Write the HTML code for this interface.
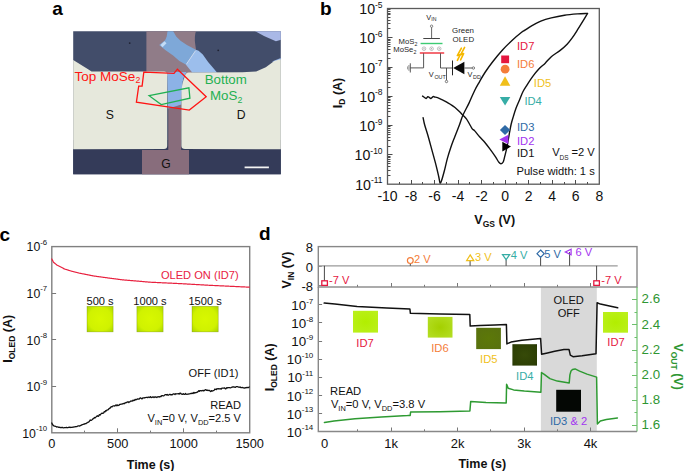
<!DOCTYPE html>
<html><head><meta charset="utf-8"><style>
html,body{margin:0;padding:0;background:#fff;width:685px;height:471px;overflow:hidden;}
svg{display:block;font-family:"Liberation Sans", sans-serif;}
</style></head><body>
<svg width="685" height="471" viewBox="0 0 685 471" font-family='"Liberation Sans", sans-serif'>
<rect width="685" height="471" fill="#fff"/>
<defs>
<filter id="blur1" x="-5%" y="-5%" width="110%" height="110%"><feGaussianBlur stdDeviation="0.7"/></filter>
<filter id="blur2"><feGaussianBlur stdDeviation="1.2"/></filter>
<clipPath id="micro"><rect x="73.2" y="31.2" width="207.6" height="143"/></clipPath>
</defs>
<text x="52.20" y="14.60" font-size="19" text-anchor="start" fill="#000" font-weight="bold" >a</text>
<text x="320.00" y="14.60" font-size="19" text-anchor="start" fill="#000" font-weight="bold" >b</text>
<text x="-0.60" y="240.60" font-size="19" text-anchor="start" fill="#000" font-weight="bold" >c</text>
<text x="259.00" y="240.30" font-size="19" text-anchor="start" fill="#000" font-weight="bold" >d</text>
<g clip-path="url(#micro)">
<rect x="73" y="31" width="208" height="144" fill="#424d6a"/>
<rect x="73" y="140" width="208" height="36" fill="#343b59"/>
<g filter="url(#blur1)">
<polygon points="253.00,30.00 282.00,30.00 282.00,39.50 275.90,41.30 264.00,36.00" fill="#a9b8e6" stroke="none" stroke-width="1" />
<polygon points="272.00,61.50 282.00,57.50 282.00,63.50 276.00,62.50" fill="#8fb0e6" stroke="none" stroke-width="1" />
<path d="M146.4,30 L196.4,30 C194.6,34 194.6,40 195.2,44 L196,49.8 L192.2,72.5 L181.2,76 L168.2,76 L146.4,73 Z" fill="#907c88" stroke="none" stroke-width="1" />
<polygon points="168.30,74.00 181.20,74.00 181.20,150.00 189.00,150.00 189.00,176.00 142.00,176.00 142.00,150.00 168.30,150.00" fill="#886d7c" stroke="none" stroke-width="1" />
<polygon points="167.70,30.00 172.50,30.00 176.20,36.50 180.50,40.70 186.90,45.00 195.90,49.80 185.80,64.60 179.40,60.90 173.10,55.60 165.60,50.30 159.20,45.00 165.10,40.20 166.70,36.50" fill="#7ea8d8" stroke="none" stroke-width="1" />
<polygon points="195.90,49.80 198.60,50.80 202.80,54.60 208.10,62.00 214.50,69.40 217.00,72.50 192.20,72.50 185.80,64.60" fill="#9cbeec" stroke="none" stroke-width="1" />
<path d="M167.2,72 L186.5,72 C184,76 182.4,80 182.4,86 L181.2,99 L181.2,104.6 C176,106.5 172,107.5 167.8,108.6 Z" fill="#8cb2e6" stroke="none" stroke-width="1" />
<path d="M72,59.2 L88.5,69.6 L91.5,71.4 L164,71.4 Q167.2,71.4 167.2,74.6 L167.2,145.8 Q167.2,149 164,149 L72,149.3 Z" fill="#e6e8dc" stroke="none" stroke-width="1" />
<path d="M282,58.8 L274.3,60.9 L265.8,67.3 L256.2,71.5 L242.4,72.2 L188.8,72.6 Q185.6,72.8 184.9,76 Q181.4,84 181.4,95 L181.4,145.8 Q181.4,149 185,149 L282,149.3 Z" fill="#e6e8dc" stroke="none" stroke-width="1" />
</g>
<polygon points="160.50,45.00 164.50,41.20 166.50,43.20 162.50,47.20" fill="#c4dcf6" stroke="none" stroke-width="1" filter="url(#blur1)"/>
<line x1="195.60" y1="50.60" x2="186.40" y2="64.20" stroke="#c8daf2" stroke-width="1.0" />
<circle cx="129.7" cy="43.1" r="0.9" fill="#1c1e2c" opacity="0.9"/>
<circle cx="218.2" cy="50.3" r="0.9" fill="#1c1e2c" opacity="0.9"/>
<line x1="244.60" y1="167.40" x2="268.90" y2="167.40" stroke="#f4f4f4" stroke-width="1.6" />
</g>
<polygon points="143.80,72.10 174.00,73.40 177.40,69.20 206.20,96.70 189.30,110.10 136.40,102.10 138.70,86.10 142.10,86.10" fill="none" stroke="#ff1414" stroke-width="1.3" stroke-linejoin="miter"/>
<polygon points="149.10,95.70 188.90,87.80 189.90,98.20 161.20,104.60" fill="none" stroke="#1fb052" stroke-width="1.3" />
<text x="74.4" y="80.6" font-size="13.5" fill="#ff1414">Top MoSe</text><text x="135.4" y="83.4" font-size="8.8" fill="#ff1414">2</text>
<text x="204.7" y="83.7" font-size="13.3" fill="#1fb052">Bottom</text>
<text x="210" y="99.7" font-size="13.3" fill="#1fb052">MoS</text><text x="237.5" y="102.7" font-size="8.8" fill="#1fb052">2</text>
<text x="109.70" y="119.00" font-size="12.2" text-anchor="middle" fill="#111" font-weight="normal" >S</text>
<text x="241.20" y="119.00" font-size="12.2" text-anchor="middle" fill="#111" font-weight="normal" >D</text>
<text x="166.10" y="168.20" font-size="12.2" text-anchor="middle" fill="#111" font-weight="normal" >G</text>
<line x1="399.50" y1="184.20" x2="399.50" y2="182.00" stroke="#4a4a4a" stroke-width="1.0"/>
<line x1="411.50" y1="184.20" x2="411.50" y2="180.00" stroke="#4a4a4a" stroke-width="1.0"/>
<line x1="422.50" y1="184.20" x2="422.50" y2="182.00" stroke="#4a4a4a" stroke-width="1.0"/>
<line x1="434.50" y1="184.20" x2="434.50" y2="180.00" stroke="#4a4a4a" stroke-width="1.0"/>
<line x1="446.50" y1="184.20" x2="446.50" y2="182.00" stroke="#4a4a4a" stroke-width="1.0"/>
<line x1="458.50" y1="184.20" x2="458.50" y2="180.00" stroke="#4a4a4a" stroke-width="1.0"/>
<line x1="469.50" y1="184.20" x2="469.50" y2="182.00" stroke="#4a4a4a" stroke-width="1.0"/>
<line x1="481.50" y1="184.20" x2="481.50" y2="180.00" stroke="#4a4a4a" stroke-width="1.0"/>
<line x1="493.50" y1="184.20" x2="493.50" y2="182.00" stroke="#4a4a4a" stroke-width="1.0"/>
<line x1="505.50" y1="184.20" x2="505.50" y2="180.00" stroke="#4a4a4a" stroke-width="1.0"/>
<line x1="516.50" y1="184.20" x2="516.50" y2="182.00" stroke="#4a4a4a" stroke-width="1.0"/>
<line x1="528.50" y1="184.20" x2="528.50" y2="180.00" stroke="#4a4a4a" stroke-width="1.0"/>
<line x1="540.50" y1="184.20" x2="540.50" y2="182.00" stroke="#4a4a4a" stroke-width="1.0"/>
<line x1="552.50" y1="184.20" x2="552.50" y2="180.00" stroke="#4a4a4a" stroke-width="1.0"/>
<line x1="564.50" y1="184.20" x2="564.50" y2="182.00" stroke="#4a4a4a" stroke-width="1.0"/>
<line x1="575.50" y1="184.20" x2="575.50" y2="180.00" stroke="#4a4a4a" stroke-width="1.0"/>
<line x1="587.50" y1="184.20" x2="587.50" y2="182.00" stroke="#4a4a4a" stroke-width="1.0"/>
<line x1="387.50" y1="175.50" x2="390.50" y2="175.50" stroke="#4a4a4a" stroke-width="1.0"/>
<line x1="387.50" y1="170.50" x2="390.50" y2="170.50" stroke="#4a4a4a" stroke-width="1.0"/>
<line x1="387.50" y1="166.50" x2="390.50" y2="166.50" stroke="#4a4a4a" stroke-width="1.0"/>
<line x1="387.50" y1="163.50" x2="390.50" y2="163.50" stroke="#4a4a4a" stroke-width="1.0"/>
<line x1="387.50" y1="161.50" x2="390.50" y2="161.50" stroke="#4a4a4a" stroke-width="1.0"/>
<line x1="387.50" y1="159.50" x2="390.50" y2="159.50" stroke="#4a4a4a" stroke-width="1.0"/>
<line x1="387.50" y1="157.50" x2="390.50" y2="157.50" stroke="#4a4a4a" stroke-width="1.0"/>
<line x1="387.50" y1="156.50" x2="390.50" y2="156.50" stroke="#4a4a4a" stroke-width="1.0"/>
<line x1="387.50" y1="154.50" x2="392.50" y2="154.50" stroke="#4a4a4a" stroke-width="1.0"/>
<line x1="387.50" y1="146.50" x2="390.50" y2="146.50" stroke="#4a4a4a" stroke-width="1.0"/>
<line x1="387.50" y1="140.50" x2="390.50" y2="140.50" stroke="#4a4a4a" stroke-width="1.0"/>
<line x1="387.50" y1="137.50" x2="390.50" y2="137.50" stroke="#4a4a4a" stroke-width="1.0"/>
<line x1="387.50" y1="134.50" x2="390.50" y2="134.50" stroke="#4a4a4a" stroke-width="1.0"/>
<line x1="387.50" y1="132.50" x2="390.50" y2="132.50" stroke="#4a4a4a" stroke-width="1.0"/>
<line x1="387.50" y1="130.50" x2="390.50" y2="130.50" stroke="#4a4a4a" stroke-width="1.0"/>
<line x1="387.50" y1="128.50" x2="390.50" y2="128.50" stroke="#4a4a4a" stroke-width="1.0"/>
<line x1="387.50" y1="126.50" x2="390.50" y2="126.50" stroke="#4a4a4a" stroke-width="1.0"/>
<line x1="387.50" y1="125.50" x2="392.50" y2="125.50" stroke="#4a4a4a" stroke-width="1.0"/>
<line x1="387.50" y1="116.50" x2="390.50" y2="116.50" stroke="#4a4a4a" stroke-width="1.0"/>
<line x1="387.50" y1="111.50" x2="390.50" y2="111.50" stroke="#4a4a4a" stroke-width="1.0"/>
<line x1="387.50" y1="108.50" x2="390.50" y2="108.50" stroke="#4a4a4a" stroke-width="1.0"/>
<line x1="387.50" y1="105.50" x2="390.50" y2="105.50" stroke="#4a4a4a" stroke-width="1.0"/>
<line x1="387.50" y1="102.50" x2="390.50" y2="102.50" stroke="#4a4a4a" stroke-width="1.0"/>
<line x1="387.50" y1="100.50" x2="390.50" y2="100.50" stroke="#4a4a4a" stroke-width="1.0"/>
<line x1="387.50" y1="99.50" x2="390.50" y2="99.50" stroke="#4a4a4a" stroke-width="1.0"/>
<line x1="387.50" y1="97.50" x2="390.50" y2="97.50" stroke="#4a4a4a" stroke-width="1.0"/>
<line x1="387.50" y1="96.50" x2="392.50" y2="96.50" stroke="#4a4a4a" stroke-width="1.0"/>
<line x1="387.50" y1="87.50" x2="390.50" y2="87.50" stroke="#4a4a4a" stroke-width="1.0"/>
<line x1="387.50" y1="82.50" x2="390.50" y2="82.50" stroke="#4a4a4a" stroke-width="1.0"/>
<line x1="387.50" y1="78.50" x2="390.50" y2="78.50" stroke="#4a4a4a" stroke-width="1.0"/>
<line x1="387.50" y1="75.50" x2="390.50" y2="75.50" stroke="#4a4a4a" stroke-width="1.0"/>
<line x1="387.50" y1="73.50" x2="390.50" y2="73.50" stroke="#4a4a4a" stroke-width="1.0"/>
<line x1="387.50" y1="71.50" x2="390.50" y2="71.50" stroke="#4a4a4a" stroke-width="1.0"/>
<line x1="387.50" y1="69.50" x2="390.50" y2="69.50" stroke="#4a4a4a" stroke-width="1.0"/>
<line x1="387.50" y1="68.50" x2="390.50" y2="68.50" stroke="#4a4a4a" stroke-width="1.0"/>
<line x1="387.50" y1="67.50" x2="392.50" y2="67.50" stroke="#4a4a4a" stroke-width="1.0"/>
<line x1="387.50" y1="58.50" x2="390.50" y2="58.50" stroke="#4a4a4a" stroke-width="1.0"/>
<line x1="387.50" y1="53.50" x2="390.50" y2="53.50" stroke="#4a4a4a" stroke-width="1.0"/>
<line x1="387.50" y1="49.50" x2="390.50" y2="49.50" stroke="#4a4a4a" stroke-width="1.0"/>
<line x1="387.50" y1="46.50" x2="390.50" y2="46.50" stroke="#4a4a4a" stroke-width="1.0"/>
<line x1="387.50" y1="44.50" x2="390.50" y2="44.50" stroke="#4a4a4a" stroke-width="1.0"/>
<line x1="387.50" y1="42.50" x2="390.50" y2="42.50" stroke="#4a4a4a" stroke-width="1.0"/>
<line x1="387.50" y1="40.50" x2="390.50" y2="40.50" stroke="#4a4a4a" stroke-width="1.0"/>
<line x1="387.50" y1="39.50" x2="390.50" y2="39.50" stroke="#4a4a4a" stroke-width="1.0"/>
<line x1="387.50" y1="37.50" x2="392.50" y2="37.50" stroke="#4a4a4a" stroke-width="1.0"/>
<line x1="387.50" y1="28.50" x2="390.50" y2="28.50" stroke="#4a4a4a" stroke-width="1.0"/>
<line x1="387.50" y1="23.50" x2="390.50" y2="23.50" stroke="#4a4a4a" stroke-width="1.0"/>
<line x1="387.50" y1="20.50" x2="390.50" y2="20.50" stroke="#4a4a4a" stroke-width="1.0"/>
<line x1="387.50" y1="17.50" x2="390.50" y2="17.50" stroke="#4a4a4a" stroke-width="1.0"/>
<line x1="387.50" y1="14.50" x2="390.50" y2="14.50" stroke="#4a4a4a" stroke-width="1.0"/>
<line x1="387.50" y1="13.50" x2="390.50" y2="13.50" stroke="#4a4a4a" stroke-width="1.0"/>
<line x1="387.50" y1="11.50" x2="390.50" y2="11.50" stroke="#4a4a4a" stroke-width="1.0"/>
<line x1="387.50" y1="9.50" x2="390.50" y2="9.50" stroke="#4a4a4a" stroke-width="1.0"/>
<rect x="387.5" y="8.5" width="211.80" height="175.70" fill="none" stroke="#5a5a5a" stroke-width="1.3"/>
<text x="387.50" y="201.30" font-size="14" text-anchor="middle" fill="#111" font-weight="normal" >-10</text>
<text x="411.03" y="201.30" font-size="14" text-anchor="middle" fill="#111" font-weight="normal" >-8</text>
<text x="434.57" y="201.30" font-size="14" text-anchor="middle" fill="#111" font-weight="normal" >-6</text>
<text x="458.10" y="201.30" font-size="14" text-anchor="middle" fill="#111" font-weight="normal" >-4</text>
<text x="481.63" y="201.30" font-size="14" text-anchor="middle" fill="#111" font-weight="normal" >-2</text>
<text x="505.17" y="201.30" font-size="14" text-anchor="middle" fill="#111" font-weight="normal" >0</text>
<text x="528.70" y="201.30" font-size="14" text-anchor="middle" fill="#111" font-weight="normal" >2</text>
<text x="552.23" y="201.30" font-size="14" text-anchor="middle" fill="#111" font-weight="normal" >4</text>
<text x="575.77" y="201.30" font-size="14" text-anchor="middle" fill="#111" font-weight="normal" >6</text>
<text x="599.30" y="201.30" font-size="14" text-anchor="middle" fill="#111" font-weight="normal" >8</text>
<text x="382.60" y="189.70" font-size="14.2" text-anchor="end" fill="#111">10<tspan font-size="8.5" dy="-6.5">-11</tspan></text>
<text x="382.60" y="160.42" font-size="14.2" text-anchor="end" fill="#111">10<tspan font-size="8.5" dy="-6.5">-10</tspan></text>
<text x="382.60" y="131.13" font-size="14.2" text-anchor="end" fill="#111">10<tspan font-size="8.5" dy="-6.5">-9</tspan></text>
<text x="382.60" y="101.85" font-size="14.2" text-anchor="end" fill="#111">10<tspan font-size="8.5" dy="-6.5">-8</tspan></text>
<text x="382.60" y="72.57" font-size="14.2" text-anchor="end" fill="#111">10<tspan font-size="8.5" dy="-6.5">-7</tspan></text>
<text x="382.60" y="43.28" font-size="14.2" text-anchor="end" fill="#111">10<tspan font-size="8.5" dy="-6.5">-6</tspan></text>
<text x="382.60" y="14.00" font-size="14.2" text-anchor="end" fill="#111">10<tspan font-size="8.5" dy="-6.5">-5</tspan></text>
<text transform="translate(342.0,93) rotate(-90)" font-size="12.5" font-weight="bold" text-anchor="middle" fill="#111">I<tspan font-size="8.5" dy="3">D</tspan><tspan dy="-3"> (A)</tspan></text>
<text x="494.7" y="224.4" font-size="12.5" font-weight="bold" text-anchor="middle" fill="#111">V<tspan font-size="8.5" dy="3">GS</tspan><tspan dy="-3"> (V)</tspan></text>
<path d="M422.60,96.10 C422.82,96.25 423.32,96.60 423.90,97.00 C424.48,97.40 425.43,98.57 426.10,98.50 C426.77,98.43 427.38,96.78 427.90,96.60 C428.42,96.42 428.70,97.08 429.20,97.40 C429.70,97.72 430.25,98.63 430.90,98.50 C431.55,98.37 432.50,96.85 433.10,96.60 C433.70,96.35 433.77,96.82 434.50,97.00 C435.23,97.18 436.27,97.27 437.50,97.70 C438.73,98.13 440.43,98.92 441.90,99.60 C443.37,100.28 444.83,100.98 446.30,101.80 C447.77,102.62 449.25,103.55 450.70,104.50 C452.15,105.45 453.55,106.33 455.00,107.50 C456.45,108.67 458.08,110.22 459.40,111.50 C460.72,112.78 461.73,113.97 462.90,115.20 C464.07,116.43 465.35,117.52 466.40,118.90 C467.45,120.28 468.33,122.02 469.20,123.50 C470.07,124.98 470.98,126.80 471.60,127.80 C472.22,128.80 472.42,129.03 472.90,129.50 C473.38,129.97 473.35,129.35 474.50,130.60 C475.65,131.85 478.03,134.97 479.80,137.00 C481.57,139.03 483.33,140.68 485.10,142.80 C486.87,144.92 488.63,147.30 490.40,149.70 C492.17,152.10 494.28,155.10 495.70,157.20 C497.12,159.30 498.02,161.20 498.90,162.30 C499.78,163.40 500.28,163.85 501.00,163.80 C501.72,163.75 502.57,163.28 503.20,162.00 C503.83,160.72 504.27,158.15 504.80,156.10 C505.33,154.05 505.87,152.18 506.40,149.70 C506.93,147.22 507.48,144.03 508.00,141.20 C508.52,138.37 508.97,135.57 509.50,132.70 C510.03,129.83 510.57,126.68 511.20,124.00 C511.83,121.32 512.50,119.22 513.30,116.60 C514.10,113.98 514.97,111.07 516.00,108.30 C517.03,105.53 518.35,102.77 519.50,100.00 C520.65,97.23 521.63,94.23 522.90,91.70 C524.17,89.17 525.48,87.32 527.10,84.80 C528.72,82.28 530.53,79.35 532.60,76.60 C534.67,73.85 537.43,70.50 539.50,68.30 C541.57,66.10 543.03,65.33 545.00,63.40 C546.97,61.47 548.72,58.92 551.30,56.70 C553.88,54.48 557.87,52.18 560.50,50.10 C563.13,48.02 565.12,46.28 567.10,44.20 C569.08,42.12 570.65,40.02 572.40,37.60 C574.15,35.18 575.85,32.43 577.60,29.70 C579.35,26.97 581.25,23.90 582.90,21.20 C584.55,18.50 586.73,14.78 587.50,13.50" fill="none" stroke="#111" stroke-width="1.4" stroke-linejoin="round" stroke-linecap="round" />
<path d="M587.50,13.50 C585.85,13.57 581.43,13.62 577.60,13.90 C573.77,14.18 568.88,14.53 564.50,15.20 C560.12,15.87 555.25,16.90 551.30,17.90 C547.35,18.90 544.08,19.88 540.80,21.20 C537.52,22.52 534.23,24.30 531.60,25.80 C528.97,27.30 526.67,29.12 525.00,30.20 C523.33,31.28 523.77,30.58 521.60,32.30 C519.43,34.02 515.18,37.55 512.00,40.50 C508.82,43.45 505.68,46.50 502.50,50.00 C499.32,53.50 495.77,57.83 492.90,61.50 C490.03,65.17 487.52,68.65 485.30,72.00 C483.08,75.35 481.35,78.57 479.60,81.60 C477.85,84.63 476.57,86.62 474.80,90.20 C473.03,93.78 470.98,98.93 469.00,103.10 C467.02,107.27 464.50,111.55 462.90,115.20 C461.30,118.85 460.77,121.37 459.40,125.00 C458.03,128.63 456.15,133.22 454.70,137.00 C453.25,140.78 451.92,144.13 450.70,147.70 C449.48,151.27 448.50,154.38 447.40,158.40 C446.30,162.42 445.10,168.02 444.10,171.80 C443.10,175.58 442.08,179.27 441.40,181.10 C440.72,182.93 440.45,183.57 440.00,182.80 C439.55,182.03 439.37,179.45 438.70,176.50 C438.03,173.55 437.12,169.45 436.00,165.10 C434.88,160.75 433.33,155.30 432.00,150.40 C430.67,145.50 429.22,139.93 428.00,135.70 C426.78,131.47 425.52,128.02 424.70,125.00 C423.88,121.98 423.37,118.83 423.10,117.60" fill="none" stroke="#111" stroke-width="1.4" stroke-linejoin="round" stroke-linecap="round" />
<text x="426.2" y="19.6" font-size="7.4" fill="#262626">V</text><text x="431.3" y="21.4" font-size="5.2" fill="#262626">IN</text>
<circle cx="431.6" cy="26.2" r="1.2" fill="#fff" stroke="#555" stroke-width="0.7"/>
<line x1="431.60" y1="27.40" x2="431.60" y2="38.50" stroke="#555" stroke-width="0.9" />
<line x1="423.30" y1="38.50" x2="439.90" y2="38.50" stroke="#444" stroke-width="1.0" />
<line x1="420.60" y1="43.50" x2="442.50" y2="43.50" stroke="#3ccb72" stroke-width="1.4" />
<circle cx="424.0" cy="48.7" r="1.8" fill="#fff" stroke="#777" stroke-width="0.45"/><circle cx="424.0" cy="48.7" r="0.5" fill="#666"/>
<circle cx="431.6" cy="48.7" r="1.8" fill="#fff" stroke="#777" stroke-width="0.45"/><circle cx="431.6" cy="48.7" r="0.5" fill="#666"/>
<circle cx="439.2" cy="48.7" r="1.8" fill="#fff" stroke="#777" stroke-width="0.45"/><circle cx="439.2" cy="48.7" r="0.5" fill="#666"/>
<line x1="419.80" y1="53.00" x2="444.20" y2="53.00" stroke="#f03a44" stroke-width="1.5" />
<polyline points="423.60,53.70 423.60,67.90 410.30,67.90" fill="none" stroke="#444" stroke-width="0.9" stroke-linejoin="round" stroke-linecap="round" />
<line x1="410.30" y1="63.30" x2="410.30" y2="72.50" stroke="#555" stroke-width="1.0" />
<line x1="408.90" y1="65.00" x2="408.90" y2="70.80" stroke="#777" stroke-width="0.8" />
<line x1="407.50" y1="66.40" x2="407.50" y2="69.40" stroke="#888" stroke-width="0.8" />
<polyline points="440.50,53.70 440.50,68.00 452.40,68.00" fill="none" stroke="#444" stroke-width="0.9" stroke-linejoin="round" stroke-linecap="round" />
<line x1="446.50" y1="68.00" x2="446.50" y2="80.30" stroke="#444" stroke-width="0.9" />
<circle cx="446.5" cy="81.5" r="1.2" fill="#fff" stroke="#444" stroke-width="0.7"/>
<line x1="452.50" y1="60.50" x2="452.50" y2="75.30" stroke="#222" stroke-width="1.0" />
<polygon points="453.20,68.00 464.40,61.80 464.40,74.20" fill="#0a0a0a" stroke="none" stroke-width="1" />
<line x1="464.40" y1="68.00" x2="472.20" y2="68.00" stroke="#444" stroke-width="0.9" />
<circle cx="473.4" cy="68" r="1.2" fill="#fff" stroke="#444" stroke-width="0.7"/>
<text x="428.8" y="76.5" font-size="7.4" fill="#262626">V</text><text x="434.4" y="78.6" font-size="5.4" fill="#262626">OUT</text>
<text x="467.6" y="76.8" font-size="7.4" fill="#262626">V</text><text x="473.0" y="78.7" font-size="5.4" fill="#262626">DD</text>
<text x="452.0" y="33.3" font-size="7.9" fill="#262626">Green</text>
<text x="452.6" y="42.1" font-size="7.9" fill="#262626">OLED</text>
<text x="414.4" y="43.7" font-size="7.7" text-anchor="end" fill="#262626">MoS</text><text x="414.6" y="45.6" font-size="5.3" fill="#262626">2</text>
<text x="413.4" y="52.3" font-size="7.7" text-anchor="end" fill="#262626">MoSe</text><text x="413.6" y="54.2" font-size="5.3" fill="#262626">2</text>
<polyline points="461.40,48.20 457.30,55.60 460.30,54.40 457.40,60.40" fill="none" stroke="#f5b800" stroke-width="1.6" stroke-linejoin="round" stroke-linecap="round" stroke-linecap="round" stroke-linejoin="miter"/>
<polyline points="464.60,47.40 460.60,54.80 463.60,53.60 460.60,59.80" fill="none" stroke="#f5b800" stroke-width="1.6" stroke-linejoin="round" stroke-linecap="round" stroke-linecap="round" stroke-linejoin="miter"/>
<rect x="501.2" y="55.5" width="7.9" height="7.7" fill="#e5173f"/>
<circle cx="505.1" cy="69.2" r="4.4" fill="#f47d3a"/>
<polygon points="505.05,76.30 510.30,85.80 499.80,85.80" fill="#f0bf1a" stroke="none" stroke-width="1" />
<polygon points="499.80,97.10 510.30,97.10 505.05,105.50" fill="#36ada6" stroke="none" stroke-width="1" />
<polygon points="505.00,124.90 510.20,130.00 505.00,135.00 499.90,130.00" fill="#2f6aa6" stroke="none" stroke-width="1" />
<polygon points="499.30,139.60 508.40,134.70 508.40,144.10" fill="#a335f0" stroke="none" stroke-width="1" />
<polygon points="502.30,141.80 511.00,146.60 502.30,151.60" fill="#000" stroke="none" stroke-width="1" />
<text x="517.00" y="49.90" font-size="11.2" text-anchor="start" fill="#e5173f" font-weight="normal" >ID7</text>
<text x="517.00" y="67.70" font-size="11.2" text-anchor="start" fill="#f47d3a" font-weight="normal" >ID6</text>
<text x="533.80" y="86.70" font-size="11.2" text-anchor="start" fill="#f0bf1a" font-weight="normal" >ID5</text>
<text x="524.40" y="104.50" font-size="11.2" text-anchor="start" fill="#36ada6" font-weight="normal" >ID4</text>
<text x="517.00" y="131.10" font-size="11.2" text-anchor="start" fill="#2f6aa6" font-weight="normal" >ID3</text>
<text x="517.00" y="144.50" font-size="11.2" text-anchor="start" fill="#a335f0" font-weight="normal" >ID2</text>
<text x="517.00" y="157.40" font-size="11.2" text-anchor="start" fill="#111" font-weight="normal" >ID1</text>
<text x="552.2" y="155.5" font-size="11.2" fill="#111">V</text><text x="559.6" y="159.9" font-size="6.5" fill="#222">DS</text><text x="571.4" y="155.5" font-size="11.2" fill="#111">=2 V</text>
<text x="594.80" y="175.10" font-size="11.2" text-anchor="end" fill="#111" font-weight="normal" >Pulse width: 1 s</text>
<line x1="51.80" y1="386.50" x2="56.10" y2="386.50" stroke="#777" stroke-width="1.0"/>
<line x1="51.80" y1="339.50" x2="56.10" y2="339.50" stroke="#777" stroke-width="1.0"/>
<line x1="51.80" y1="293.50" x2="56.10" y2="293.50" stroke="#777" stroke-width="1.0"/>
<line x1="84.50" y1="432.80" x2="84.50" y2="430.60" stroke="#777" stroke-width="1.0"/>
<line x1="117.50" y1="432.80" x2="117.50" y2="428.30" stroke="#777" stroke-width="1.0"/>
<line x1="150.50" y1="432.80" x2="150.50" y2="430.60" stroke="#777" stroke-width="1.0"/>
<line x1="183.50" y1="432.80" x2="183.50" y2="428.30" stroke="#777" stroke-width="1.0"/>
<line x1="216.50" y1="432.80" x2="216.50" y2="430.60" stroke="#777" stroke-width="1.0"/>
<rect x="51.8" y="246.6" width="197.90" height="186.20" fill="none" stroke="#808080" stroke-width="1.4"/>
<text x="47.20" y="437.60" font-size="12.3" text-anchor="end" fill="#111">10<tspan font-size="7.8" dy="-6.5">-10</tspan></text>
<text x="47.20" y="391.05" font-size="12.3" text-anchor="end" fill="#111">10<tspan font-size="7.8" dy="-6.5">-9</tspan></text>
<text x="47.20" y="344.50" font-size="12.3" text-anchor="end" fill="#111">10<tspan font-size="7.8" dy="-6.5">-8</tspan></text>
<text x="47.20" y="297.95" font-size="12.3" text-anchor="end" fill="#111">10<tspan font-size="7.8" dy="-6.5">-7</tspan></text>
<text x="47.20" y="251.40" font-size="12.3" text-anchor="end" fill="#111">10<tspan font-size="7.8" dy="-6.5">-6</tspan></text>
<text x="51.80" y="447.80" font-size="12.8" text-anchor="middle" fill="#111" font-weight="normal" >0</text>
<text x="117.77" y="447.80" font-size="12.8" text-anchor="middle" fill="#111" font-weight="normal" >500</text>
<text x="183.73" y="447.80" font-size="12.8" text-anchor="middle" fill="#111" font-weight="normal" >1000</text>
<text x="249.70" y="447.80" font-size="12.8" text-anchor="middle" fill="#111" font-weight="normal" >1500</text>
<text x="150.6" y="468.5" font-size="12.5" font-weight="bold" text-anchor="middle" fill="#111">Time (s)</text>
<text transform="translate(12.0,338.8) rotate(-90)" font-size="12.5" font-weight="bold" text-anchor="middle" fill="#111">I<tspan font-size="8.5" dy="3">OLED</tspan><tspan dy="-3"> (A)</tspan></text>
<polyline points="51.80,259.00 52.30,259.94 52.80,260.89 53.30,261.83 53.80,262.56 54.30,262.95 54.80,263.34 55.30,263.73 55.80,264.12 56.30,264.52 56.80,264.91 57.30,265.30 57.80,265.55 58.30,265.81 58.80,266.06 59.30,266.31 59.80,266.57 60.30,266.82 60.80,267.07 61.30,267.33 61.80,267.58 62.30,267.83 62.80,268.09 63.30,268.34 63.80,268.59 64.30,268.85 64.80,269.06 65.30,269.22 65.80,269.38 66.30,269.54 66.80,269.69 67.30,269.85 67.80,270.01 68.30,270.17 68.80,270.32 69.30,270.48 69.80,270.64 70.30,270.80 70.80,270.95 71.30,271.11 71.80,271.27 72.30,271.40 72.80,271.52 73.30,271.65 73.80,271.77 74.30,271.89 74.80,272.02 75.30,272.14 75.80,272.26 76.30,272.38 76.80,272.51 77.30,272.63 77.80,272.75 78.30,272.88 78.80,273.00 79.30,273.12 79.80,273.22 80.30,273.32 80.80,273.42 81.30,273.52 81.80,273.62 82.30,273.72 82.80,273.82 83.30,273.91 83.80,274.01 84.30,274.11 84.80,274.21 85.30,274.31 85.80,274.41 86.30,274.51 86.80,274.61 87.30,274.71 87.80,274.81 88.30,274.91 88.80,275.01 89.30,275.11 89.80,275.21 90.30,275.30 90.80,275.40 91.30,275.50 91.80,275.60 92.30,275.70 92.80,275.80 93.30,275.90 93.80,276.00 94.30,276.07 94.80,276.14 95.30,276.21 95.80,276.27 96.30,276.34 96.80,276.41 97.30,276.48 97.80,276.55 98.30,276.62 98.80,276.68 99.30,276.75 99.80,276.82 100.30,276.89 100.80,276.96 101.30,277.03 101.80,277.10 102.30,277.16 102.80,277.23 103.30,277.30 103.80,277.37 104.30,277.44 104.80,277.51 105.30,277.58 105.80,277.64 106.30,277.71 106.80,277.78 107.30,277.85 107.80,277.92 108.30,277.99 108.80,278.05 109.30,278.12 109.80,278.18 110.30,278.25 110.80,278.31 111.30,278.38 111.80,278.44 112.30,278.51 112.80,278.57 113.30,278.64 113.80,278.70 114.30,278.77 114.80,278.83 115.30,278.90 115.80,278.96 116.30,279.03 116.80,279.09 117.30,279.16 117.80,279.22 118.30,279.29 118.80,279.35 119.30,279.42 119.80,279.48 120.30,279.55 120.80,279.61 121.30,279.68 121.80,279.74 122.30,279.81 122.80,279.87 123.30,279.92 123.80,279.97 124.30,280.01 124.80,280.05 125.30,280.09 125.80,280.13 126.30,280.17 126.80,280.21 127.30,280.25 127.80,280.29 128.30,280.34 128.80,280.38 129.30,280.42 129.80,280.46 130.30,280.50 130.80,280.54 131.30,280.58 131.80,280.62 132.30,280.66 132.80,280.71 133.30,280.75 133.80,280.79 134.30,280.83 134.80,280.87 135.30,280.91 135.80,280.95 136.30,280.99 136.80,281.03 137.30,281.08 137.80,281.12 138.30,281.16 138.80,281.21 139.30,281.25 139.80,281.30 140.30,281.34 140.80,281.38 141.30,281.43 141.80,281.47 142.30,281.52 142.80,281.56 143.30,281.61 143.80,281.65 144.30,281.69 144.80,281.74 145.30,281.78 145.80,281.83 146.30,281.87 146.80,281.92 147.30,281.96 147.80,282.00 148.30,282.05 148.80,282.09 149.30,282.14 149.80,282.18 150.30,282.21 150.80,282.24 151.30,282.26 151.80,282.28 152.30,282.31 152.80,282.33 153.30,282.36 153.80,282.38 154.30,282.40 154.80,282.43 155.30,282.45 155.80,282.47 156.30,282.50 156.80,282.52 157.30,282.54 157.80,282.57 158.30,282.59 158.80,282.61 159.30,282.64 159.80,282.66 160.30,282.68 160.80,282.71 161.30,282.73 161.80,282.75 162.30,282.78 162.80,282.80 163.30,282.82 163.80,282.85 164.30,282.87 164.80,282.90 165.30,282.92 165.80,282.94 166.30,282.97 166.80,282.99 167.30,283.01 167.80,283.04 168.30,283.06 168.80,283.08 169.30,283.11 169.80,283.13 170.30,283.15 170.80,283.18 171.30,283.20 171.80,283.22 172.30,283.25 172.80,283.27 173.30,283.29 173.80,283.32 174.30,283.34 174.80,283.37 175.30,283.39 175.80,283.41 176.30,283.44 176.80,283.46 177.30,283.48 177.80,283.51 178.30,283.53 178.80,283.55 179.30,283.58 179.80,283.60 180.30,283.63 180.80,283.66 181.30,283.69 181.80,283.71 182.30,283.74 182.80,283.77 183.30,283.80 183.80,283.83 184.30,283.86 184.80,283.89 185.30,283.91 185.80,283.94 186.30,283.97 186.80,284.00 187.30,284.03 187.80,284.06 188.30,284.08 188.80,284.11 189.30,284.14 189.80,284.17 190.30,284.20 190.80,284.23 191.30,284.26 191.80,284.28 192.30,284.31 192.80,284.34 193.30,284.37 193.80,284.40 194.30,284.43 194.80,284.46 195.30,284.48 195.80,284.51 196.30,284.54 196.80,284.57 197.30,284.60 197.80,284.63 198.30,284.66 198.80,284.68 199.30,284.71 199.80,284.74 200.30,284.77 200.80,284.80 201.30,284.83 201.80,284.86 202.30,284.88 202.80,284.91 203.30,284.94 203.80,284.97 204.30,285.00 204.80,285.03 205.30,285.05 205.80,285.08 206.30,285.11 206.80,285.14 207.30,285.17 207.80,285.20 208.30,285.23 208.80,285.25 209.30,285.28 209.80,285.31 210.30,285.33 210.80,285.36 211.30,285.38 211.80,285.40 212.30,285.43 212.80,285.45 213.30,285.48 213.80,285.50 214.30,285.52 214.80,285.55 215.30,285.57 215.80,285.59 216.30,285.62 216.80,285.64 217.30,285.66 217.80,285.69 218.30,285.71 218.80,285.74 219.30,285.76 219.80,285.78 220.30,285.81 220.80,285.83 221.30,285.85 221.80,285.88 222.30,285.90 222.80,285.93 223.30,285.95 223.80,285.97 224.30,286.00 224.80,286.02 225.30,286.04 225.80,286.07 226.30,286.09 226.80,286.11 227.30,286.14 227.80,286.16 228.30,286.19 228.80,286.21 229.30,286.23 229.80,286.26 230.30,286.28 230.80,286.30 231.30,286.33 231.80,286.35 232.30,286.38 232.80,286.40 233.30,286.42 233.80,286.45 234.30,286.47 234.80,286.49 235.30,286.52 235.80,286.54 236.30,286.57 236.80,286.59 237.30,286.61 237.80,286.64 238.30,286.66 238.80,286.68 239.30,286.71 239.80,286.73 240.30,286.75 240.80,286.78 241.30,286.80 241.80,286.83 242.30,286.85 242.80,286.87 243.30,286.90 243.80,286.92 244.30,286.94 244.80,286.97 245.30,286.99 245.80,287.02 246.30,287.04 246.80,287.06 247.30,287.09 247.80,287.11 248.30,287.13 248.80,287.16 249.30,287.18" fill="none" stroke="#e8213f" stroke-width="1.2" stroke-linejoin="round" stroke-linecap="round" />
<text x="238.60" y="279.10" font-size="11.1" text-anchor="end" fill="#e8213f" font-weight="normal" >OLED ON (ID7)</text>
<polyline points="51.80,422.97 52.50,424.52 53.20,425.38 53.90,425.83 54.60,426.18 55.30,426.24 56.00,426.49 56.70,427.01 57.40,426.82 58.10,426.92 58.80,427.41 59.50,427.25 60.20,427.54 60.90,427.47 61.60,427.65 62.30,427.43 63.00,427.67 63.70,427.78 64.40,427.61 65.10,427.72 65.80,427.69 66.50,427.38 67.20,427.73 67.90,427.60 68.60,427.39 69.30,427.18 70.00,427.53 70.70,427.26 71.40,427.31 72.10,427.32 72.80,427.17 73.50,427.19 74.20,426.81 74.90,426.89 75.60,426.59 76.30,426.72 77.00,426.57 77.70,426.06 78.40,425.96 79.10,425.88 79.80,426.01 80.50,425.43 81.20,425.39 81.90,424.74 82.60,424.72 83.30,424.31 84.00,424.00 84.70,424.02 85.40,423.64 86.10,423.56 86.80,422.83 87.50,422.67 88.20,422.12 88.90,421.82 89.60,420.98 90.30,419.94 91.00,420.35 91.70,420.05 92.40,419.54 93.10,418.71 93.80,418.46 94.50,417.47 95.20,417.83 95.90,417.13 96.60,416.40 97.30,415.75 98.00,416.31 98.70,416.08 99.40,414.62 100.10,415.06 100.80,414.16 101.50,413.42 102.20,413.17 102.90,413.31 103.60,413.01 104.30,411.59 105.00,411.84 105.70,410.69 106.40,410.91 107.10,409.85 107.80,409.92 108.50,409.45 109.20,408.30 109.90,408.30 110.60,407.19 111.30,406.64 112.00,406.99 112.70,406.03 113.40,405.95 114.10,405.93 114.80,405.98 115.50,405.26 116.20,404.94 116.90,405.75 117.60,404.91 118.30,405.51 119.00,405.26 119.70,404.46 120.40,404.35 121.10,404.20 121.80,404.12 122.50,403.83 123.20,403.56 123.90,403.40 124.60,403.55 125.30,402.80 126.00,402.49 126.70,402.67 127.40,401.93 128.10,401.84 128.80,402.49 129.50,401.77 130.20,401.64 130.90,400.83 131.60,401.15 132.30,401.11 133.00,400.17 133.70,400.62 134.40,400.37 135.10,399.42 135.80,399.84 136.50,399.38 137.20,399.37 137.90,398.77 138.60,399.08 139.30,398.99 140.00,398.01 140.70,397.94 141.40,398.56 142.10,398.78 142.80,397.80 143.50,397.94 144.20,398.01 144.90,397.60 145.60,397.57 146.30,397.42 147.00,397.41 147.70,397.59 148.40,397.15 149.10,397.16 149.80,397.55 150.50,396.64 151.20,397.30 151.90,397.51 152.60,397.01 153.30,396.91 154.00,397.62 154.70,396.95 155.40,396.90 156.10,397.20 156.80,397.53 157.50,396.79 158.20,396.85 158.90,396.66 159.60,397.05 160.30,396.38 161.00,396.67 161.70,395.64 162.40,395.64 163.10,395.81 163.80,395.88 164.50,395.16 165.20,394.74 165.90,394.55 166.60,394.97 167.30,394.50 168.00,395.17 168.70,395.15 169.40,394.29 170.10,394.34 170.80,394.91 171.50,394.65 172.20,394.78 172.90,394.15 173.60,393.82 174.30,393.94 175.00,394.46 175.70,393.76 176.40,393.78 177.10,393.79 177.80,393.72 178.50,393.63 179.20,394.17 179.90,393.19 180.60,393.04 181.30,394.20 182.00,394.16 182.70,394.32 183.40,393.69 184.10,394.35 184.80,394.35 185.50,393.54 186.20,394.20 186.90,394.35 187.60,394.17 188.30,394.03 189.00,393.79 189.70,393.89 190.40,393.71 191.10,393.28 191.80,393.67 192.50,393.07 193.20,393.46 193.90,392.31 194.60,393.10 195.30,392.61 196.00,392.65 196.70,392.38 197.40,392.15 198.10,391.53 198.80,390.62 199.50,391.33 200.20,390.53 200.90,390.57 201.60,390.90 202.30,390.62 203.00,390.37 203.70,390.89 204.40,390.39 205.10,389.95 205.80,389.73 206.50,390.35 207.20,390.05 207.90,390.62 208.60,390.31 209.30,390.33 210.00,390.95 210.70,391.49 211.40,390.64 212.10,391.09 212.80,390.95 213.50,390.51 214.20,390.24 214.90,388.96 215.60,389.44 216.30,389.65 217.00,388.61 217.70,388.80 218.40,388.73 219.10,388.97 219.80,388.77 220.50,388.76 221.20,389.06 221.90,388.05 222.60,388.05 223.30,388.06 224.00,387.99 224.70,387.84 225.40,388.84 226.10,388.60 226.80,387.58 227.50,387.99 228.20,387.67 228.90,387.58 229.60,387.53 230.30,387.79 231.00,387.62 231.70,387.26 232.40,386.96 233.10,387.03 233.80,386.73 234.50,387.21 235.20,387.37 235.90,386.93 236.60,386.53 237.30,386.62 238.00,386.81 238.70,387.06 239.40,387.26 240.10,386.93 240.80,387.59 241.50,387.54 242.20,387.46 242.90,387.55 243.60,387.85 244.30,388.10 245.00,387.69 245.70,387.95 246.40,387.60 247.10,387.28 247.80,387.56 248.50,387.68 249.20,386.89" fill="none" stroke="#111" stroke-width="1.3" stroke-linejoin="round" stroke-linecap="round" />
<text x="238.50" y="377.00" font-size="11.1" text-anchor="end" fill="#111" font-weight="normal" >OFF (ID1)</text>
<text x="241.00" y="409.20" font-size="11.1" text-anchor="end" fill="#111" font-weight="normal" >READ</text>
<text x="241.0" y="422" font-size="11.1" text-anchor="end" fill="#111">V<tspan font-size="7.4" dy="2.6">IN</tspan><tspan dy="-2.6">=0 V, V</tspan><tspan font-size="7.4" dy="2.6">DD</tspan><tspan dy="-2.6">=2.5 V</tspan></text>
<defs><radialGradient id="sqg" cx="50%" cy="50%" r="70%"><stop offset="0" stop-color="#d8f800"/><stop offset="0.65" stop-color="#d0f200"/><stop offset="1" stop-color="#a8d400"/></radialGradient>
<radialGradient id="sqd7" cx="50%" cy="50%" r="75%"><stop offset="0" stop-color="#b2ee00"/><stop offset="1" stop-color="#bcf020"/></radialGradient>
<radialGradient id="sqd6" cx="50%" cy="50%" r="75%"><stop offset="0" stop-color="#a4d000"/><stop offset="1" stop-color="#b6e028"/></radialGradient>
<radialGradient id="sqd5" cx="50%" cy="50%" r="75%"><stop offset="0" stop-color="#5c7808"/><stop offset="1" stop-color="#587010"/></radialGradient>
<radialGradient id="sqd4" cx="50%" cy="50%" r="75%"><stop offset="0" stop-color="#364a08"/><stop offset="0.8" stop-color="#2c3e04"/><stop offset="1" stop-color="#1a2600"/></radialGradient>
</defs>
<rect x="87.0" y="306.3" width="26.10" height="25.6" fill="url(#sqg)" stroke="#6a8000" stroke-width="0.5" stroke-opacity="0.6"/>
<text x="100.05" y="304.50" font-size="11.1" text-anchor="middle" fill="#111" font-weight="normal" >500 s</text>
<rect x="136.9" y="306.3" width="26.20" height="25.6" fill="url(#sqg)" stroke="#6a8000" stroke-width="0.5" stroke-opacity="0.6"/>
<text x="150.00" y="304.50" font-size="11.1" text-anchor="middle" fill="#111" font-weight="normal" >1000 s</text>
<rect x="192.0" y="306.3" width="26.20" height="25.6" fill="url(#sqg)" stroke="#6a8000" stroke-width="0.5" stroke-opacity="0.6"/>
<text x="205.10" y="304.50" font-size="11.1" text-anchor="middle" fill="#111" font-weight="normal" >1500 s</text>
<rect x="540.9" y="287.0" width="55.90" height="144.50" fill="#d9d9d9"/>
<line x1="357.50" y1="287.00" x2="357.50" y2="284.80" stroke="#777" stroke-width="1.0"/>
<line x1="357.50" y1="431.50" x2="357.50" y2="429.30" stroke="#777" stroke-width="1.0"/>
<line x1="391.50" y1="287.00" x2="391.50" y2="283.00" stroke="#777" stroke-width="1.0"/>
<line x1="391.50" y1="431.50" x2="391.50" y2="427.50" stroke="#777" stroke-width="1.0"/>
<line x1="424.50" y1="287.00" x2="424.50" y2="284.80" stroke="#777" stroke-width="1.0"/>
<line x1="424.50" y1="431.50" x2="424.50" y2="429.30" stroke="#777" stroke-width="1.0"/>
<line x1="457.50" y1="287.00" x2="457.50" y2="283.00" stroke="#777" stroke-width="1.0"/>
<line x1="457.50" y1="431.50" x2="457.50" y2="427.50" stroke="#777" stroke-width="1.0"/>
<line x1="490.50" y1="287.00" x2="490.50" y2="284.80" stroke="#777" stroke-width="1.0"/>
<line x1="490.50" y1="431.50" x2="490.50" y2="429.30" stroke="#777" stroke-width="1.0"/>
<line x1="524.50" y1="287.00" x2="524.50" y2="283.00" stroke="#777" stroke-width="1.0"/>
<line x1="524.50" y1="431.50" x2="524.50" y2="427.50" stroke="#777" stroke-width="1.0"/>
<line x1="557.50" y1="287.00" x2="557.50" y2="284.80" stroke="#777" stroke-width="1.0"/>
<line x1="557.50" y1="431.50" x2="557.50" y2="429.30" stroke="#777" stroke-width="1.0"/>
<line x1="590.50" y1="287.00" x2="590.50" y2="283.00" stroke="#777" stroke-width="1.0"/>
<line x1="590.50" y1="431.50" x2="590.50" y2="427.50" stroke="#777" stroke-width="1.0"/>
<line x1="318.30" y1="266.50" x2="321.80" y2="266.50" stroke="#888" stroke-width="1.0"/>
<line x1="318.30" y1="285.50" x2="321.80" y2="285.50" stroke="#888" stroke-width="1.0"/>
<line x1="318.30" y1="265.90" x2="617.70" y2="265.90" stroke="#9a9a9a" stroke-width="1.4" />
<line x1="318.30" y1="413.50" x2="322.10" y2="413.50" stroke="#777" stroke-width="1.0"/>
<line x1="318.30" y1="395.50" x2="322.10" y2="395.50" stroke="#777" stroke-width="1.0"/>
<line x1="318.30" y1="377.50" x2="322.10" y2="377.50" stroke="#777" stroke-width="1.0"/>
<line x1="318.30" y1="359.50" x2="322.10" y2="359.50" stroke="#777" stroke-width="1.0"/>
<line x1="318.30" y1="341.50" x2="322.10" y2="341.50" stroke="#777" stroke-width="1.0"/>
<line x1="318.30" y1="322.50" x2="322.10" y2="322.50" stroke="#777" stroke-width="1.0"/>
<line x1="318.30" y1="304.50" x2="322.10" y2="304.50" stroke="#777" stroke-width="1.0"/>
<line x1="637.00" y1="425.50" x2="632.00" y2="425.50" stroke="#6cbf6c" stroke-width="1.0"/>
<line x1="637.00" y1="412.50" x2="634.50" y2="412.50" stroke="#6cbf6c" stroke-width="1.0"/>
<line x1="637.00" y1="400.50" x2="632.00" y2="400.50" stroke="#6cbf6c" stroke-width="1.0"/>
<line x1="637.00" y1="387.50" x2="634.50" y2="387.50" stroke="#6cbf6c" stroke-width="1.0"/>
<line x1="637.00" y1="375.50" x2="632.00" y2="375.50" stroke="#6cbf6c" stroke-width="1.0"/>
<line x1="637.00" y1="362.50" x2="634.50" y2="362.50" stroke="#6cbf6c" stroke-width="1.0"/>
<line x1="637.00" y1="350.50" x2="632.00" y2="350.50" stroke="#6cbf6c" stroke-width="1.0"/>
<line x1="637.00" y1="337.50" x2="634.50" y2="337.50" stroke="#6cbf6c" stroke-width="1.0"/>
<line x1="637.00" y1="324.50" x2="632.00" y2="324.50" stroke="#6cbf6c" stroke-width="1.0"/>
<line x1="637.00" y1="312.50" x2="634.50" y2="312.50" stroke="#6cbf6c" stroke-width="1.0"/>
<line x1="637.00" y1="299.50" x2="632.00" y2="299.50" stroke="#6cbf6c" stroke-width="1.0"/>
<rect x="318.3" y="246.6" width="318.70" height="40.40" fill="none" stroke="#888" stroke-width="1.4"/>
<path d="M637.0,287.0 L637.0,431.5" stroke="#6cbf6c" stroke-width="1.2"/>
<path d="M637.0,431.5 L318.3,431.5 L318.3,287.0" fill="none" stroke="#888" stroke-width="1.4"/>
<text x="313.10" y="251.90" font-size="13" text-anchor="end" fill="#111" font-weight="normal" >8</text>
<text x="313.10" y="271.50" font-size="13" text-anchor="end" fill="#111" font-weight="normal" >0</text>
<text x="313.10" y="291.20" font-size="13" text-anchor="end" fill="#111" font-weight="normal" >-8</text>
<text x="313.30" y="436.70" font-size="13.4" text-anchor="end" fill="#111">10<tspan font-size="8" dy="-6.5">-14</tspan></text>
<text x="313.30" y="418.60" font-size="13.4" text-anchor="end" fill="#111">10<tspan font-size="8" dy="-6.5">-13</tspan></text>
<text x="313.30" y="400.50" font-size="13.4" text-anchor="end" fill="#111">10<tspan font-size="8" dy="-6.5">-12</tspan></text>
<text x="313.30" y="382.40" font-size="13.4" text-anchor="end" fill="#111">10<tspan font-size="8" dy="-6.5">-11</tspan></text>
<text x="313.30" y="364.30" font-size="13.4" text-anchor="end" fill="#111">10<tspan font-size="8" dy="-6.5">-10</tspan></text>
<text x="313.30" y="346.20" font-size="13.4" text-anchor="end" fill="#111">10<tspan font-size="8" dy="-6.5">-9</tspan></text>
<text x="313.30" y="328.10" font-size="13.4" text-anchor="end" fill="#111">10<tspan font-size="8" dy="-6.5">-8</tspan></text>
<text x="313.30" y="310.00" font-size="13.4" text-anchor="end" fill="#111">10<tspan font-size="8" dy="-6.5">-7</tspan></text>
<text x="324.70" y="447.50" font-size="13" text-anchor="middle" fill="#111" font-weight="normal" >0</text>
<text x="391.15" y="447.50" font-size="13" text-anchor="middle" fill="#111" font-weight="normal" >1k</text>
<text x="457.60" y="447.50" font-size="13" text-anchor="middle" fill="#111" font-weight="normal" >2k</text>
<text x="524.05" y="447.50" font-size="13" text-anchor="middle" fill="#111" font-weight="normal" >3k</text>
<text x="590.50" y="447.50" font-size="13" text-anchor="middle" fill="#111" font-weight="normal" >4k</text>
<text x="641.60" y="428.90" font-size="13.3" text-anchor="start" fill="#2e9632" font-weight="normal" >1.6</text>
<text x="641.60" y="403.80" font-size="13.3" text-anchor="start" fill="#2e9632" font-weight="normal" >1.8</text>
<text x="641.60" y="378.70" font-size="13.3" text-anchor="start" fill="#2e9632" font-weight="normal" >2.0</text>
<text x="641.60" y="353.60" font-size="13.3" text-anchor="start" fill="#2e9632" font-weight="normal" >2.2</text>
<text x="641.60" y="328.50" font-size="13.3" text-anchor="start" fill="#2e9632" font-weight="normal" >2.4</text>
<text x="641.60" y="303.40" font-size="13.3" text-anchor="start" fill="#2e9632" font-weight="normal" >2.6</text>
<text x="482.3" y="468.3" font-size="12.5" font-weight="bold" text-anchor="middle" fill="#111">Time (s)</text>
<text transform="translate(290.6,270) rotate(-90)" font-size="12.5" font-weight="bold" text-anchor="middle" fill="#111">V<tspan font-size="8.5" dy="3">IN</tspan><tspan dy="-3"> (V)</tspan></text>
<text transform="translate(273.6,367.3) rotate(-90)" font-size="12.5" font-weight="bold" text-anchor="middle" fill="#111">I<tspan font-size="8.5" dy="3">OLED</tspan><tspan dy="-3"> (A)</tspan></text>
<text transform="translate(673.8,366.6) rotate(90)" font-size="12.5" font-weight="bold" text-anchor="middle" fill="#2e9632">V<tspan font-size="8.5" dy="3">OUT</tspan><tspan dy="-3"> (V)</tspan></text>
<line x1="324.40" y1="265.80" x2="324.40" y2="283.00" stroke="#333" stroke-width="0.9" />
<line x1="410.30" y1="265.80" x2="410.30" y2="263.50" stroke="#333" stroke-width="0.9" />
<line x1="470.10" y1="265.80" x2="470.10" y2="261.00" stroke="#333" stroke-width="0.9" />
<line x1="506.10" y1="265.80" x2="506.10" y2="259.50" stroke="#333" stroke-width="0.9" />
<line x1="540.60" y1="265.80" x2="540.60" y2="257.50" stroke="#333" stroke-width="0.9" />
<line x1="569.60" y1="265.80" x2="569.60" y2="252.00" stroke="#333" stroke-width="0.9" />
<line x1="596.60" y1="265.80" x2="596.60" y2="283.00" stroke="#333" stroke-width="0.9" />
<rect x="321.8" y="280.8" width="5.6" height="4.6" fill="#fff" stroke="#e5173f" stroke-width="1.3"/>
<rect x="593.8" y="280.8" width="5.6" height="4.6" fill="#fff" stroke="#e5173f" stroke-width="1.3"/>
<circle cx="410.3" cy="260.6" r="2.9" fill="none" stroke="#f47d3a" stroke-width="1.2"/>
<polygon points="470.20,254.90 473.80,260.70 466.60,260.70" fill="none" stroke="#f0bf1a" stroke-width="1.2" />
<polygon points="502.50,254.60 509.70,254.60 506.10,259.60" fill="none" stroke="#36ada6" stroke-width="1.2" />
<polygon points="540.60,250.00 544.20,253.70 540.60,257.40 537.00,253.70" fill="none" stroke="#2f6aa6" stroke-width="1.2" />
<polygon points="565.30,252.00 571.10,249.10 571.10,254.90" fill="none" stroke="#a335f0" stroke-width="1.2" />
<text x="329.00" y="284.10" font-size="11.1" text-anchor="start" fill="#e5173f" font-weight="normal" >-7 V</text>
<text x="601.20" y="284.30" font-size="11.1" text-anchor="start" fill="#e5173f" font-weight="normal" >-7 V</text>
<text x="414.05" y="263.30" font-size="11.1" text-anchor="start" fill="#f47d3a" font-weight="normal" >2 V</text>
<text x="474.90" y="261.20" font-size="11.1" text-anchor="start" fill="#f0bf1a" font-weight="normal" >3 V</text>
<text x="510.85" y="258.60" font-size="11.1" text-anchor="start" fill="#36ada6" font-weight="normal" >4 V</text>
<text x="544.30" y="257.80" font-size="11.1" text-anchor="start" fill="#2f6aa6" font-weight="normal" >5 V</text>
<text x="575.60" y="256.00" font-size="11.1" text-anchor="start" fill="#a335f0" font-weight="normal" >6 V</text>
<polyline points="324.20,303.10 334.90,304.10 357.10,306.60 386.90,308.10 409.90,309.00 410.40,313.30 420.00,313.60 440.00,314.00 469.80,314.60 470.20,326.10 480.00,325.50 495.00,325.00 506.40,324.60 506.90,343.90 511.00,342.10 521.90,340.30 540.60,338.40 541.60,354.30 547.40,353.00 554.70,351.20 563.90,349.60 569.00,349.40 570.30,355.20 573.00,356.70 582.10,355.80 596.00,353.80 597.10,302.70 600.40,304.10 609.50,306.00 617.70,307.80" fill="none" stroke="#111" stroke-width="1.5" stroke-linejoin="round" stroke-linecap="round" />
<polyline points="324.40,422.50 334.00,420.90 355.00,418.80 381.30,417.00 407.60,415.60 410.20,415.40 410.60,412.00 440.00,411.80 469.90,411.00 470.70,401.40 486.00,402.60 506.20,403.00 506.60,384.20 508.20,388.30 513.60,389.90 524.30,391.10 540.90,392.30 541.50,372.60 543.90,374.10 549.90,378.60 557.30,381.10 569.20,383.00 569.90,374.90 571.00,371.00 572.50,369.50 575.10,368.90 579.60,371.10 587.00,374.10 596.60,377.10 597.40,423.90 600.30,420.90 606.30,419.40 617.40,417.90" fill="none" stroke="#2e9a32" stroke-width="1.5" stroke-linejoin="round" stroke-linecap="round" />
<rect x="353" y="310.8" width="25" height="21.8" fill="url(#sqd7)"/>
<rect x="427.8" y="316.9" width="24.7" height="20.7" fill="url(#sqd6)"/>
<rect x="476.2" y="327.8" width="24.7" height="21.3" fill="url(#sqd5)"/>
<rect x="512.4" y="344.2" width="24.6" height="21.4" fill="url(#sqd4)"/>
<rect x="556.2" y="389.8" width="24.8" height="21.9" fill="#040704"/>
<rect x="603" y="312" width="25" height="20.7" fill="url(#sqd7)"/>
<text x="365.00" y="347.40" font-size="11.2" text-anchor="middle" fill="#e5173f" font-weight="normal" >ID7</text>
<text x="439.90" y="351.80" font-size="11.2" text-anchor="middle" fill="#f47d3a" font-weight="normal" >ID6</text>
<text x="488.80" y="362.80" font-size="11.2" text-anchor="middle" fill="#f0bf1a" font-weight="normal" >ID5</text>
<text x="524.80" y="379.60" font-size="11.2" text-anchor="middle" fill="#36ada6" font-weight="normal" >ID4</text>
<text x="616.00" y="346.30" font-size="11.2" text-anchor="middle" fill="#e5173f" font-weight="normal" >ID7</text>
<text x="549.9" y="425.0" font-size="11.2" fill="#2f6aa6">ID3 <tspan fill="#a335f0">&amp; 2</tspan></text>
<text x="568.70" y="304.00" font-size="11.1" text-anchor="middle" fill="#111" font-weight="normal" >OLED</text>
<text x="568.80" y="317.40" font-size="11.1" text-anchor="middle" fill="#111" font-weight="normal" >OFF</text>
<text x="330.10" y="394.90" font-size="11.2" text-anchor="start" fill="#111" font-weight="normal" >READ</text>
<text x="330.9" y="408.2" font-size="11.2" fill="#111">V<tspan font-size="7.4" dy="2.4">IN</tspan><tspan dy="-2.4">=0 V, V</tspan><tspan font-size="7.4" dy="2.4">DD</tspan><tspan dy="-2.4">=3.8 V</tspan></text>
</svg>
</body></html>
